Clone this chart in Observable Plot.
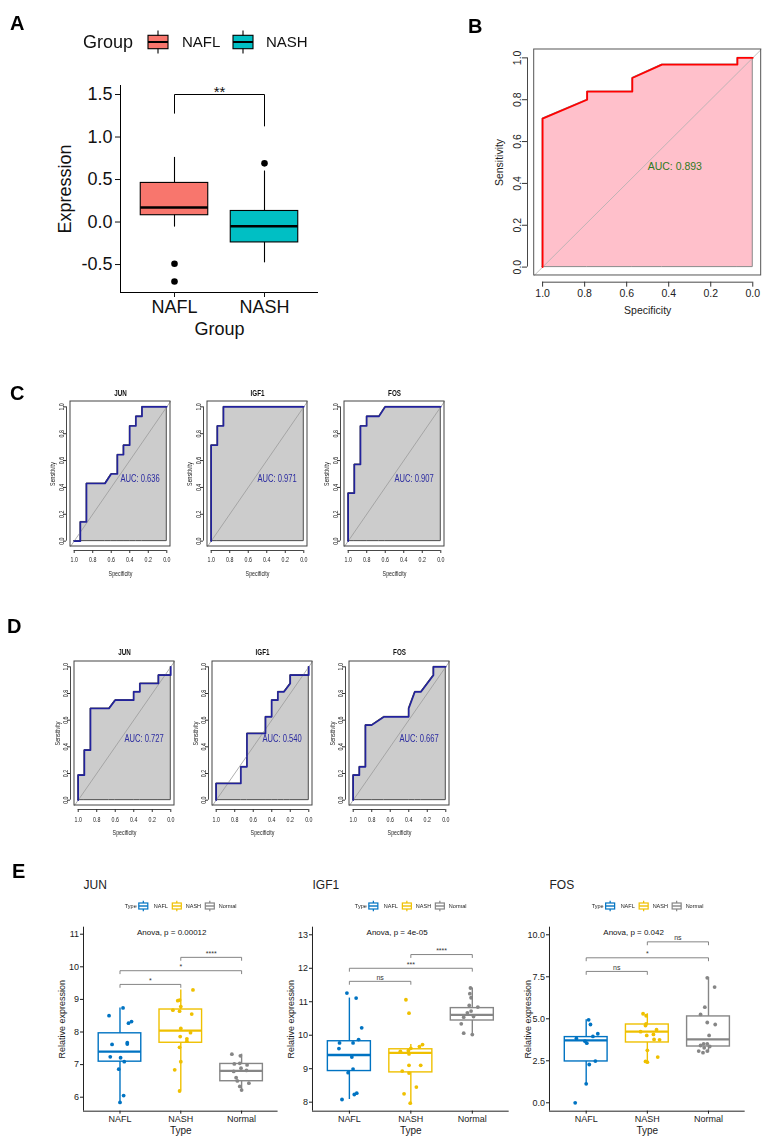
<!DOCTYPE html>
<html><head><meta charset="utf-8">
<script src="https://cdn.jsdelivr.net/npm/d3@7"></script>
<script src="https://cdn.jsdelivr.net/npm/@observablehq/plot@0.6"></script>
<style>
body{margin:0;background:#fff;}
#page{position:relative;width:762px;height:1143px;overflow:hidden;background:#fff;}
.panel{position:absolute;}
.panel svg{overflow:visible;max-width:none;}
.panel.narrow{will-change:transform;opacity:0.999;}
</style></head><body><div id="page"></div>
<script>
// ---------- Panel A data ----------
const groupsA = ["NAFL", "NASH"];
const colorsA = ["#F8766D", "#00BFC4"];
const q1A = [0.08, -0.24];
const medianA = [0.17, -0.05];
const q3A = [0.46, 0.13];
const whiskerLoA = [-0.06, -0.48];
const whiskerHiA = [0.76, 0.60];
const outlierGroupA = ["NAFL", "NAFL", "NASH"];
const outlierValueA = [-0.49, -0.70, 0.69];
const ticksA = [-0.5, 0, 0.5, 1.0, 1.5];
const bracketGroupsA = ["NAFL", "NAFL", "NASH", "NASH"];
const bracketYA = [1.28, 1.5, 1.5, 1.13];
const sigLabelA = "**";

// ---------- Panel B data ----------
const specB = [1, 1, 0.788, 0.788, 0.573, 0.573, 0.432, 0.073, 0.073, 0];
const sensB = [0, 0.71, 0.80, 0.839, 0.839, 0.904, 0.968, 0.968, 1, 1];
const aucB = 0.893;

// ---------- Panel C / D data ----------
const rocGenes = ["JUN", "IGF1", "FOS"];
const rocTicks = [0, 0.2, 0.4, 0.6, 0.8, 1.0];
const specC_JUN = [1, 0.933, 0.933, 0.867, 0.867, 0.667, 0.6, 0.533, 0.533, 0.467, 0.467, 0.4, 0.4, 0.333, 0.333, 0.267, 0.267, 0];
const sensC_JUN = [0, 0, 0.143, 0.143, 0.429, 0.429, 0.5, 0.5, 0.643, 0.643, 0.714, 0.714, 0.857, 0.857, 0.929, 0.929, 1, 1];
const specC_IGF1 = [1, 1, 0.933, 0.933, 0.867, 0.867, 0];
const sensC_IGF1 = [0, 0.714, 0.714, 0.857, 0.857, 1, 1];
const specC_FOS = [1, 1, 0.933, 0.933, 0.867, 0.867, 0.8, 0.8, 0.667, 0.6, 0];
const sensC_FOS = [0, 0.357, 0.357, 0.571, 0.571, 0.857, 0.857, 0.929, 0.929, 1, 1];
const aucC = [0.636, 0.971, 0.907];

const specD_JUN = [1, 1, 0.933, 0.933, 0.867, 0.867, 0.667, 0.6, 0.4, 0.4, 0.333, 0.333, 0.133, 0.133, 0, 0];
const sensD_JUN = [0, 0.1875, 0.1875, 0.375, 0.375, 0.6875, 0.6875, 0.75, 0.75, 0.8125, 0.8125, 0.875, 0.875, 0.9375, 0.9375, 1];
const specD_IGF1 = [1, 1, 0.733, 0.733, 0.667, 0.667, 0.467, 0.467, 0.4, 0.4, 0.333, 0.333, 0.267, 0.2, 0.2, 0, 0];
const sensD_IGF1 = [0, 0.125, 0.125, 0.25, 0.25, 0.5, 0.5, 0.625, 0.625, 0.75, 0.75, 0.8125, 0.8125, 0.875, 0.9375, 0.9375, 1];
const specD_FOS = [1, 1, 0.933, 0.933, 0.867, 0.867, 0.8, 0.667, 0.4, 0.4, 0.333, 0.267, 0.133, 0.133, 0];
const sensD_FOS = [0, 0.1875, 0.1875, 0.25, 0.25, 0.5625, 0.5625, 0.625, 0.625, 0.6875, 0.8125, 0.8125, 0.9375, 1, 1];
const aucD = [0.727, 0.540, 0.667];

// ---------- Panel E data ----------
const typesE = ["NAFL", "NASH", "Normal"];
const colorsE = ["#0073C2", "#EFC000", "#868686"];
const bracketPairsE = [["NAFL", "NASH"], ["NAFL", "Normal"], ["NASH", "Normal"]];

const junQ1 = [7.09, 7.67, 6.49], junMed = [7.40, 8.04, 6.81], junQ3 = [7.96, 8.69, 7.02];
const junLo = [5.84, 6.19, 6.22], junHi = [8.74, 9.29, 7.32];
const junNAFL = [8.50, 8.74, 8.27, 8.32, 7.62, 7.67, 7.63, 7.24, 7.21, 7.09, 6.86, 6.05, 5.84];
const junNAFLJit = [-0.18, 0.05, 0.14, 0.19, -0.13, 0.12, 0.12, -0.16, 0.01, 0.07, -0.02, 0.06, 0.00];
const junNASH = [9.29, 8.96, 8.98, 8.78, 8.67, 8.64, 8.55, 8.11, 7.98, 7.86, 7.79, 7.72, 7.53, 7.09, 6.84, 6.19];
const junNASHJit = [0.20, -0.05, -0.02, 0.00, -0.13, -0.02, 0.18, 0.00, 0.16, -0.01, 0.10, 0.10, -0.02, 0.00, -0.10, -0.02];
const junNormal = [7.32, 7.27, 7.02, 7.04, 6.99, 6.89, 6.79, 6.82, 6.60, 6.50, 6.43, 6.33, 6.22];
const junNormalJit = [-0.16, -0.02, -0.12, -0.03, 0.09, -0.01, -0.13, 0.08, -0.09, -0.07, 0.12, -0.03, 0.00];
const junBracketY = [9.46, 9.88, 10.29], junBracketLabel = ["*", "*", "****"];
const junTicks = [6, 7, 8, 9, 10, 11];

const igfQ1 = [8.93, 8.89, 10.44], igfMed = [9.41, 9.47, 10.61], igfQ3 = [9.82, 9.58, 10.81];
const igfLo = [8.08, 7.97, 10.04], igfHi = [11.11, 9.72, 11.41];
const igfNAFL = [11.26, 11.11, 10.22, 9.87, 9.77, 9.77, 9.60, 9.35, 8.99, 8.88, 8.27, 8.23, 8.08];
const igfNAFLJit = [-0.04, 0.11, 0.20, 0.15, -0.16, 0.06, -0.17, 0.04, 0.06, -0.02, 0.12, 0.08, -0.12];
const igfNASH = [11.06, 10.66, 9.72, 9.66, 9.61, 9.54, 9.52, 9.44, 9.10, 9.10, 8.93, 8.87, 8.45, 8.25, 7.97];
const igfNASHJit = [-0.08, -0.03, 0.19, 0.14, 0.00, -0.04, -0.17, -0.03, 0.16, -0.03, -0.14, -0.03, 0.09, -0.11, -0.01];
const igfNormal = [11.41, 11.24, 11.12, 10.89, 10.84, 10.72, 10.67, 10.54, 10.56, 10.34, 10.06, 10.02];
const igfNormalJit = [-0.03, -0.04, -0.02, -0.05, 0.09, -0.02, -0.08, -0.14, 0.02, -0.18, -0.14, 0.00];
const igfBracketY = [11.61, 12.0, 12.41], igfBracketLabel = ["ns", "***", "****"];
const igfTicks = [8, 9, 10, 11, 12, 13];

const fosQ1 = [2.46, 3.59, 3.35], fosMed = [3.71, 4.23, 3.77], fosQ3 = [3.91, 4.66, 5.14];
const fosLo = [1.13, 2.42, 2.98], fosHi = [4.94, 5.30, 7.44];
const fosNAFL = [4.94, 4.66, 4.11, 3.95, 3.83, 3.67, 3.55, 2.48, 2.28, 1.13, 0.00];
const fosNAFLJit = [0.04, 0.07, 0.19, 0.11, -0.16, -0.02, 0.01, 0.15, 0.05, 0.00, -0.18];
const fosNASH = [5.30, 5.18, 4.70, 4.60, 4.35, 4.23, 4.07, 4.01, 3.77, 3.75, 3.12, 2.72, 2.46, 2.42];
const fosNASHJit = [-0.07, -0.02, -0.02, -0.03, 0.15, -0.11, 0.10, -0.01, 0.11, 0.20, 0.00, 0.17, -0.03, 0.00];
const fosNormal = [7.44, 6.89, 5.69, 5.26, 4.78, 4.66, 4.01, 3.51, 3.51, 3.41, 3.35, 3.27, 3.08, 3.08, 2.98];
const fosNormalJit = [-0.02, 0.10, -0.06, -0.13, -0.02, 0.11, 0.01, -0.08, -0.02, -0.13, 0.02, -0.07, -0.16, -0.02, -0.09];
const fosBracketY = [7.82, 8.63, 9.58], fosBracketLabel = ["ns", "*", "ns"];
const fosTicks = [0, 2.5, 5, 7.5, 10];

const anovaLabels = ["Anova, p = 0.00012", "Anova, p = 4e-05", "Anova, p = 0.042"];

// ---------- helpers ----------
const page = document.getElementById("page");
const SANS = '"Liberation Sans", Arial, sans-serif';
function place(node, left, top) {
  const d = document.createElement("div");
  d.className = "panel";
  d.style.left = left + "px";
  d.style.top = top + "px";
  d.appendChild(node);
  page.appendChild(d);
  return d;
}
// horizontally condense texts (imitates the squeezed R graphics)
function condense(svg, factor) {
  svg.querySelectorAll("text").forEach(t => {
    const L = t.getComputedTextLength();
    if (L > 0) {
      t.setAttribute("textLength", (L * factor).toFixed(2));
      t.setAttribute("lengthAdjust", "spacingAndGlyphs");
    }
  });
}
const MID = {lineAnchor: "middle", textAnchor: "middle"};

// ---------- Panel A ----------
(function () {
  const L = 120, R = 318, T = 85, B = 292, TOP = 60, W = 330, H = 290;
  const xDom = [0.4, 2.6], yDom = [-0.829, 1.606];
  const hw = 0.375;
  const boxes = groupsA.map((g, i) => ({g, x: i + 1, q1: q1A[i], med: medianA[i], q3: q3A[i], lo: whiskerLoA[i], hi: whiskerHiA[i]}));
  const outs = outlierGroupA.map((g, i) => ({x: groupsA.indexOf(g) + 1, v: outlierValueA[i]}));
  const br = bracketGroupsA.map((g, i) => ({x: groupsA.indexOf(g) + 1, y: bracketYA[i]}));
  const svg = Plot.plot({
    width: W, height: H, marginLeft: L, marginRight: W - R, marginTop: T - TOP, marginBottom: H - (B - TOP),
    x: {domain: xDom, axis: null}, y: {domain: yDom, axis: null},
    color: {domain: groupsA, range: colorsA},
    style: {fontFamily: SANS, fontSize: "18px", color: "#111", background: "none", overflow: "visible"},
    marks: [
      Plot.ruleX(boxes, {x: "x", y1: "lo", y2: "hi", stroke: "black", strokeWidth: 1.1}),
      Plot.rect(boxes, {x1: d => d.x - hw, x2: d => d.x + hw, y1: "q1", y2: "q3", fill: "g", stroke: "black", strokeWidth: 1.1}),
      Plot.ruleY(boxes, {y: "med", x1: d => d.x - hw, x2: d => d.x + hw, stroke: "black", strokeWidth: 2.6}),
      Plot.dot(outs, {x: "x", y: "v", r: 3.3, fill: "black", stroke: "none"}),
      Plot.line(br, {x: "x", y: "y", stroke: "black", strokeWidth: 1}),
      Plot.text([sigLabelA], {x: () => 1.5, y: () => bracketYA[1], text: d => d, lineAnchor: "bottom", dy: 2, fontSize: 15}),
      Plot.ruleX([xDom[0]], {x: d => d, stroke: "black", strokeWidth: 1}),
      Plot.ruleY([yDom[0]], {y: d => d, stroke: "black", strokeWidth: 1}),
      Plot.axisY({ticks: ticksA, tickSize: 5, tickPadding: 3, tickFormat: d => d.toFixed(1), label: null, fontSize: 18}),
      Plot.axisX({ticks: [1, 2], tickSize: 5, tickPadding: 3, tickFormat: i => groupsA[i - 1], label: null, fontSize: 18}),
      Plot.text(["Expression"], {...MID, frameAnchor: "left", dx: -55, rotate: -90, text: d => d, fontSize: 18}),
      Plot.text(["Group"], {...MID, x: () => 1.5, frameAnchor: "bottom", dy: 37, text: d => d, fontSize: 18})
    ]
  });
  place(svg, 0, TOP);
})();

// ---------- ROC plots (B, C, D) ----------
const rocLim = [-0.04, 1.04];
function rocPlot(c) {
  const span = rocLim[1] - rocLim[0];
  const ux = c.w / span, uy = c.h / span;
  const xDom = [rocLim[1] + c.off / ux, rocLim[0]];
  const yDom = [rocLim[0] - c.off / uy, rocLim[1]];
  const ML = 50, MR = 4, MT = 24, MB = 44;
  const curve = c.spec.map((s, i) => ({spec: s, sens: c.sens[i]}));
  const diag = rocLim.map(v => ({spec: v, sens: 1 - v}));
  const [tMin, tMax] = d3.extent(rocTicks);
  const fmt = d => d.toFixed(1);
  const marks = [
    Plot.areaY(curve, {x: "spec", y1: () => 0, y2: "sens", fill: c.fill, stroke: c.polyStroke, strokeWidth: 1}),
    Plot.line(diag, {x: "spec", y: "sens", stroke: c.diag, strokeWidth: 0.8}),
    Plot.line(curve, {x: "spec", y: "sens", stroke: c.line, strokeWidth: c.lineWidth}),
    Plot.rect([rocLim], {x1: d => d[1], x2: d => d[0], y1: d => d[0], y2: d => d[1], fill: "none", stroke: c.box, strokeWidth: 1}),
    Plot.ruleY([yDom[0]], {y: d => d, x1: () => tMax, x2: () => tMin, stroke: c.axis, strokeWidth: 0.9}),
    Plot.ruleX([xDom[0]], {x: d => d, y1: () => tMin, y2: () => tMax, stroke: c.axis, strokeWidth: 0.9}),
    Plot.axisX({ticks: rocTicks, tickSize: c.tick, tickFormat: () => "", stroke: c.axis, label: null}),
    Plot.axisY({ticks: rocTicks, tickSize: c.tick, tickFormat: () => "", stroke: c.axis, label: null}),
    Plot.text(rocTicks, {...MID, x: d => d, frameAnchor: "bottom", dy: c.xLabGap, text: fmt, fontSize: c.tickFont, fill: c.text}),
    Plot.text(rocTicks, {...MID, y: d => d, frameAnchor: "left", dx: -c.yLabGap, rotate: -90, text: fmt, fontSize: c.tickFont, fill: c.text}),
    Plot.text(["Specificity"], {...MID, x: () => 0.5, frameAnchor: "bottom", dy: c.specGap, text: d => d, fontSize: c.labFont, fill: c.text}),
    Plot.text(["Sensitivity"], {...MID, y: () => 0.5, frameAnchor: "left", dx: -c.sensGap, rotate: -90, text: d => d, fontSize: c.labFont, fill: c.text}),
    Plot.text([c.auc], {x: () => 0.5, y: () => 0.5, text: d => `AUC: ${d.toFixed(3)}`, textAnchor: "start", lineAnchor: "top", fill: c.aucColor, fontSize: c.aucFont})
  ];
  if (c.title) marks.push(Plot.text([c.title], {...MID, x: () => 0.5, frameAnchor: "top", dy: -c.titleGap, text: d => d, fontWeight: "bold", fontSize: c.titleFont, fill: "#111"}));
  const svg = Plot.plot({
    width: ML + c.w + c.off + MR, height: MT + c.h + c.off + MB,
    marginLeft: ML, marginRight: MR, marginTop: MT, marginBottom: MB,
    x: {domain: xDom, axis: null}, y: {domain: yDom, axis: null},
    style: {fontFamily: SANS, fontSize: c.tickFont + "px", color: c.axis, background: "none", overflow: "visible"},
    marks
  });
  const div = place(svg, c.left - c.off - ML, c.top - MT);
  if (c.condense) { div.classList.add("narrow"); condense(svg, c.condense); }
}

// Panel B
rocPlot({spec: specB, sens: sensB, auc: aucB, left: 534, top: 49, w: 227, h: 226, off: 6.7, tick: 5,
  tickFont: 10.5, labFont: 10.5, aucFont: 10.5, xLabGap: 11.3, specGap: 28.3, yLabGap: 10.3, sensGap: 28.3,
  line: "#ff0000", lineWidth: 1.8, fill: "#ffc0cb", polyStroke: "#8a8a8a", diag: "#b0b0b0", aucColor: "#2f7a22",
  box: "#555", axis: "#333", text: "#222"});

// Panels C and D
const rocStyleCD = {w: 100, off: 4, tick: 3, tickFont: 8, labFont: 8, aucFont: 11.5, titleFont: 9.5, condense: 0.66,
  yLabGap: 5, line: "#22229c", lineWidth: 1.6, fill: "#cccccc", polyStroke: "#4d4d4d", diag: "#9a9a9a",
  aucColor: "#2a2aa0", box: "#444", axis: "#333", text: "#222"};
const specC = [specC_JUN, specC_IGF1, specC_FOS], sensC = [sensC_JUN, sensC_IGF1, sensC_FOS];
const specD = [specD_JUN, specD_IGF1, specD_FOS], sensD = [sensD_JUN, sensD_IGF1, sensD_FOS];
const leftsC = [70, 207, 344], leftsD = [74, 212, 349];
rocGenes.forEach((g, i) => {
  rocPlot({...rocStyleCD, spec: specC[i], sens: sensC[i], auc: aucC[i], title: g, left: leftsC[i], top: 401, h: 145,
    titleGap: 9, xLabGap: 9, specGap: 23, sensGap: 14});
  rocPlot({...rocStyleCD, spec: specD[i], sens: sensD[i], auc: aucD[i], title: g, left: leftsD[i], top: 661, h: 144,
    titleGap: 10, xLabGap: 10, specGap: 23, sensGap: 13});
});

// ---------- Panel E ----------
const genesE = [
  {gene: "JUN", q1: junQ1, med: junMed, q3: junQ3, lo: junLo, hi: junHi,
   values: [junNAFL, junNASH, junNormal], jitter: [junNAFLJit, junNASHJit, junNormalJit],
   bracketY: junBracketY, bracketLabel: junBracketLabel, ticks: junTicks, fmt: d => String(d),
   yDom: [5.571, 11.215], frame: [83, 277.6]},
  {gene: "IGF1", q1: igfQ1, med: igfMed, q3: igfQ3, lo: igfLo, hi: igfHi,
   values: [igfNAFL, igfNASH, igfNormal], jitter: [igfNAFLJit, igfNASHJit, igfNormalJit],
   bracketY: igfBracketY, bracketLabel: igfBracketLabel, ticks: igfTicks, fmt: d => String(d),
   yDom: [7.731, 13.227], frame: [312, 508.7]},
  {gene: "FOS", q1: fosQ1, med: fosMed, q3: fosQ3, lo: fosLo, hi: fosHi,
   values: [fosNAFL, fosNASH, fosNormal], jitter: [fosNAFLJit, fosNASHJit, fosNormalJit],
   bracketY: fosBracketY, bracketLabel: fosBracketLabel, ticks: fosTicks, fmt: d => d.toFixed(1),
   yDom: [-0.5, 10.452], frame: [549.3, 745]}
];
const legendCentersE = [];
genesE.forEach((g, gi) => {
  const FL = g.frame[0], FR = g.frame[1], FT = 926.7, FB = 1110.7;
  const TOP = 870, ML = 50, MR = 12, H = 1143 - TOP;
  const xDom = [0.4, 3.6];
  const hw = 0.35;
  const boxes = typesE.map((t, i) => ({t, x: i + 1, q1: g.q1[i], med: g.med[i], q3: g.q3[i], lo: g.lo[i], hi: g.hi[i]}));
  const pts = typesE.flatMap((t, i) => g.values[i].map((v, j) => ({t, x: i + 1 + g.jitter[i][j], v})));
  const tip = 3 * (g.yDom[1] - g.yDom[0]) / (FB - FT);
  const brs = bracketPairsE.map(([a, b], k) => ({a: typesE.indexOf(a) + 1, b: typesE.indexOf(b) + 1, y: g.bracketY[k], label: g.bracketLabel[k]}));
  const brPts = brs.flatMap((b, k) => [
    {k, x: b.a, y: b.y - tip}, {k, x: b.a, y: b.y}, {k, x: b.b, y: b.y}, {k, x: b.b, y: b.y - tip}]);
  const svg = Plot.plot({
    width: ML + (FR - FL) + MR, height: H,
    marginLeft: ML, marginRight: MR, marginTop: FT - TOP, marginBottom: H - (FB - TOP),
    x: {domain: xDom, axis: null}, y: {domain: g.yDom, axis: null},
    color: {domain: typesE, range: colorsE},
    style: {fontFamily: SANS, fontSize: "9px", color: "#1a1a1a", background: "none", overflow: "visible"},
    marks: [
      Plot.ruleX(boxes, {x: "x", y1: "lo", y2: "hi", stroke: "t", strokeWidth: 1.4}),
      Plot.rect(boxes, {x1: d => d.x - hw, x2: d => d.x + hw, y1: "q1", y2: "q3", fill: "white", stroke: "t", strokeWidth: 1.4}),
      Plot.ruleY(boxes, {y: "med", x1: d => d.x - hw, x2: d => d.x + hw, stroke: "t", strokeWidth: 2.3}),
      Plot.dot(pts, {x: "x", y: "v", r: 1.9, fill: "t", stroke: "none"}),
      Plot.line(brPts, {x: "x", y: "y", z: "k", stroke: "#777", strokeWidth: 0.9}),
      Plot.text(brs, {x: d => (d.a + d.b) / 2, y: "y", text: "label", lineAnchor: "bottom", dy: -1.5, fontSize: 7, fill: "#333"}),
      Plot.text([anovaLabels[gi]], {x: () => 1.28, frameAnchor: "top", dy: 5, textAnchor: "start", lineAnchor: "middle", text: d => d, fontSize: 8, fill: "#111"}),
      Plot.ruleX([xDom[0]], {x: d => d, stroke: "#222", strokeWidth: 1}),
      Plot.ruleY([g.yDom[0]], {y: d => d, stroke: "#222", strokeWidth: 1}),
      Plot.axisY({ticks: g.ticks, tickSize: 3, tickPadding: 1.5, tickFormat: g.fmt, label: null, fontSize: 9}),
      Plot.axisX({ticks: [1, 2, 3], tickSize: 3, tickPadding: 1.5, tickFormat: i => typesE[i - 1], label: null, fontSize: 9}),
      Plot.text([g.gene], {frameAnchor: "top-left", dy: -41.7, textAnchor: "start", lineAnchor: "middle", text: d => d, fontSize: 12, fill: "#222"}),
      Plot.text(["Relative expression"], {...MID, frameAnchor: "left", dx: -21, rotate: -90, text: d => d, fontSize: 9}),
      Plot.text(["Type"], {...MID, x: () => 2, frameAnchor: "bottom", dy: 20, text: d => d, fontSize: 10})
    ]
  });
  place(svg, FL - ML, TOP);
  legendCentersE.push(FL + (2 - xDom[0]) * (FR - FL) / (xDom[1] - xDom[0]));
});

// ---------- overlay: panel letters and legends ----------
const ov = d3.create("svg").attr("width", 762).attr("height", 1143)
  .style("position", "absolute").style("left", "0px").style("top", "0px").style("pointer-events", "none");
const letters = [["A", 10, 30], ["B", 468, 33], ["C", 10, 400], ["D", 7, 633], ["E", 12, 878]];
letters.forEach(([t, x, y]) => ov.append("text").attr("x", x).attr("y", y).text(t)
  .attr("font-family", SANS).attr("font-weight", "bold").attr("font-size", 20).attr("fill", "#000"));

// legend A
(function () {
  const g = ov.append("g").attr("transform", "translate(83,42)").attr("font-family", SANS);
  g.append("text").text("Group").attr("font-size", 18).attr("dy", "0.35em").attr("fill", "#111");
  const glyphX = [75, 160], labX = [99, 183];
  groupsA.forEach((name, i) => {
    const cx = glyphX[i];
    g.append("line").attr("x1", cx).attr("x2", cx).attr("y1", -11.5).attr("y2", 11.5).attr("stroke", "black").attr("stroke-width", 1.1);
    g.append("rect").attr("x", cx - 10).attr("y", -6.7).attr("width", 20).attr("height", 13.4).attr("fill", colorsA[i]).attr("stroke", "black").attr("stroke-width", 1.1);
    g.append("line").attr("x1", cx - 10).attr("x2", cx + 10).attr("y1", 0).attr("y2", 0).attr("stroke", "black").attr("stroke-width", 2);
    g.append("text").attr("x", labX[i]).attr("dy", "0.35em").attr("font-size", 15).attr("fill", "#111").text(name);
  });
})();

// legends E
legendCentersE.forEach(cxc => {
  const g = ov.append("g").attr("transform", `translate(${cxc - 55.5},906)`).attr("font-family", SANS);
  g.append("text").text("Type").attr("font-size", 5.5).attr("dy", "0.35em").attr("fill", "#222");
  const glyphX = [18.5, 52, 85], labX = [29, 61, 94];
  typesE.forEach((name, i) => {
    const cx = glyphX[i];
    g.append("line").attr("x1", cx).attr("x2", cx).attr("y1", -5.2).attr("y2", 5.2).attr("stroke", colorsE[i]).attr("stroke-width", 1.2);
    g.append("rect").attr("x", cx - 4.5).attr("y", -3).attr("width", 9).attr("height", 6).attr("fill", "white").attr("stroke", colorsE[i]).attr("stroke-width", 1.2);
    g.append("line").attr("x1", cx - 4.5).attr("x2", cx + 4.5).attr("y1", 0).attr("y2", 0).attr("stroke", colorsE[i]).attr("stroke-width", 1.4);
    g.append("text").attr("x", labX[i]).attr("dy", "0.35em").attr("font-size", 5.5).attr("fill", "#222").text(name);
  });
});
page.appendChild(ov.node());
</script></body></html>
